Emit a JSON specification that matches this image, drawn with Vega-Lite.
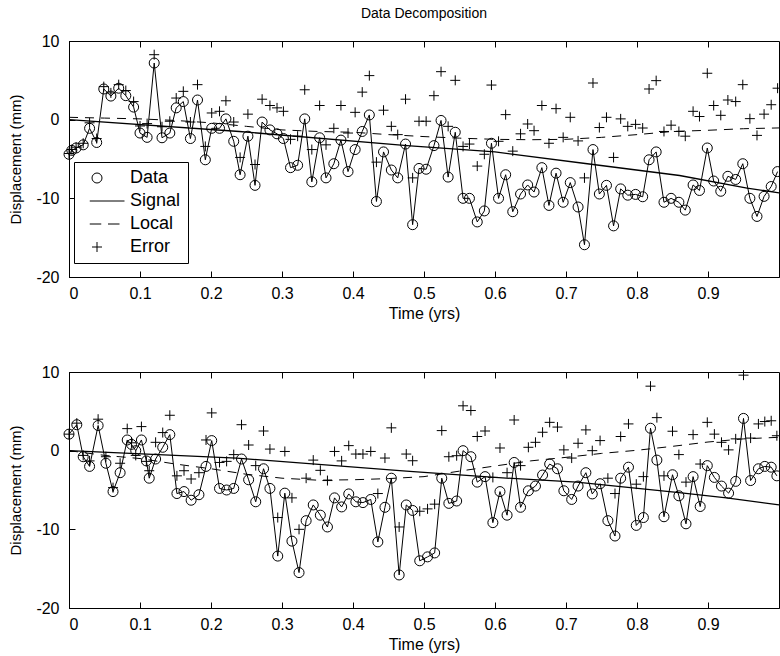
{
  "$schema": "https://vega.github.io/schema/vega-lite/v6.json",
  "background": "white",
  "padding": {"left": 8, "top": 6, "right": 0, "bottom": 0},
  "config": {
    "font": "Liberation Sans",
    "view": {"stroke": "black", "strokeWidth": 1},
    "axis": {"grid": false, "domainColor": "black", "tickColor": "black", "labelColor": "black", "titleColor": "black", "labelFontSize": 16, "titleFontSize": 15, "titleFontWeight": "normal", "tickSize": -6, "labelFont": "Liberation Sans", "titleFont": "Liberation Sans"},
    "concat": {"spacing": 41}
  },
  "datasets": {
    "top": [
      {"s":"Signal","t":0,"v":0},{"s":"Signal","t":0.24,"v":-1.5},{"s":"Signal","t":0.476,"v":-3.3},{"s":"Signal","t":0.6,"v":-4.1},{"s":"Signal","t":0.73,"v":-5.6},{"s":"Signal","t":0.86,"v":-7.1},{"s":"Signal","t":0.955,"v":-8.7},{"s":"Signal","t":1.0,"v":-9.3},
      {"s":"Local","t":0,"v":0.3},{"s":"Local","t":0.05,"v":0.2},{"s":"Local","t":0.1,"v":0.1},{"s":"Local","t":0.15,"v":-0.1},{"s":"Local","t":0.2,"v":-0.4},{"s":"Local","t":0.25,"v":-0.85},{"s":"Local","t":0.3,"v":-1.3},{"s":"Local","t":0.35,"v":-1.5},{"s":"Local","t":0.4,"v":-1.6},{"s":"Local","t":0.45,"v":-1.9},{"s":"Local","t":0.5,"v":-2.15},{"s":"Local","t":0.55,"v":-2.35},{"s":"Local","t":0.6,"v":-2.5},{"s":"Local","t":0.65,"v":-2.55},{"s":"Local","t":0.7,"v":-2.5},{"s":"Local","t":0.75,"v":-2.25},{"s":"Local","t":0.8,"v":-1.9},{"s":"Local","t":0.85,"v":-1.5},{"s":"Local","t":0.9,"v":-1.35},{"s":"Local","t":0.95,"v":-1.15},{"s":"Local","t":1.0,"v":-1.05},
      {"s":"Data","t":0.000,"v":-4.4},{"s":"Data","t":0.004,"v":-3.9},{"s":"Data","t":0.010,"v":-3.6},{"s":"Data","t":0.020,"v":-3.2},{"s":"Data","t":0.029,"v":-1.1},{"s":"Data","t":0.039,"v":-2.9},{"s":"Data","t":0.049,"v":3.9},{"s":"Data","t":0.059,"v":3.0},{"s":"Data","t":0.070,"v":4.0},{"s":"Data","t":0.080,"v":3.05},
      {"s":"Data","t":0.091,"v":1.6},{"s":"Data","t":0.100,"v":-1.7},{"s":"Data","t":0.110,"v":-2.25},{"s":"Data","t":0.120,"v":7.2},{"s":"Data","t":0.131,"v":-2.3},{"s":"Data","t":0.142,"v":-1.7},{"s":"Data","t":0.151,"v":1.5},{"s":"Data","t":0.161,"v":2.3},{"s":"Data","t":0.171,"v":-2.4},{"s":"Data","t":0.181,"v":2.5},
      {"s":"Data","t":0.192,"v":-5.1},{"s":"Data","t":0.201,"v":-1.1},{"s":"Data","t":0.212,"v":-1.1},{"s":"Data","t":0.221,"v":0.1},{"s":"Data","t":0.232,"v":-2.75},{"s":"Data","t":0.241,"v":-7.0},{"s":"Data","t":0.252,"v":-2.1},{"s":"Data","t":0.262,"v":-8.35},{"s":"Data","t":0.272,"v":-0.3},{"s":"Data","t":0.283,"v":-1.3},
      {"s":"Data","t":0.293,"v":-1.8},{"s":"Data","t":0.302,"v":-2.4},{"s":"Data","t":0.312,"v":-6.1},{"s":"Data","t":0.322,"v":-5.8},{"s":"Data","t":0.332,"v":0.1},{"s":"Data","t":0.342,"v":-7.9},{"s":"Data","t":0.353,"v":-2.3},{"s":"Data","t":0.362,"v":-7.4},{"s":"Data","t":0.373,"v":-5.6},{"s":"Data","t":0.383,"v":-2.6},
      {"s":"Data","t":0.393,"v":-6.6},{"s":"Data","t":0.403,"v":-3.8},{"s":"Data","t":0.413,"v":-1.5},{"s":"Data","t":0.423,"v":0.6},{"s":"Data","t":0.433,"v":-10.4},{"s":"Data","t":0.443,"v":-4.1},{"s":"Data","t":0.454,"v":-6.4},{"s":"Data","t":0.463,"v":-7.4},{"s":"Data","t":0.474,"v":-3.1},{"s":"Data","t":0.484,"v":-13.35},
      {"s":"Data","t":0.493,"v":-6.2},{"s":"Data","t":0.503,"v":-6.3},{"s":"Data","t":0.514,"v":-3.3},{"s":"Data","t":0.524,"v":-0.1},{"s":"Data","t":0.534,"v":-7.3},{"s":"Data","t":0.544,"v":-1.6},{"s":"Data","t":0.555,"v":-10.0},{"s":"Data","t":0.564,"v":-10.0},{"s":"Data","t":0.575,"v":-13.0},{"s":"Data","t":0.585,"v":-11.6},
      {"s":"Data","t":0.595,"v":-3.0},{"s":"Data","t":0.605,"v":-10.0},{"s":"Data","t":0.615,"v":-7.0},{"s":"Data","t":0.625,"v":-11.7},{"s":"Data","t":0.636,"v":-9.45},{"s":"Data","t":0.646,"v":-8.3},{"s":"Data","t":0.655,"v":-9.2},{"s":"Data","t":0.666,"v":-6.1},{"s":"Data","t":0.676,"v":-10.9},{"s":"Data","t":0.686,"v":-6.8},
      {"s":"Data","t":0.696,"v":-10.5},{"s":"Data","t":0.706,"v":-8.0},{"s":"Data","t":0.717,"v":-11.1},{"s":"Data","t":0.726,"v":-15.9},{"s":"Data","t":0.738,"v":-3.8},{"s":"Data","t":0.747,"v":-9.45},{"s":"Data","t":0.757,"v":-8.35},{"s":"Data","t":0.767,"v":-13.5},{"s":"Data","t":0.777,"v":-8.8},{"s":"Data","t":0.787,"v":-9.6},
      {"s":"Data","t":0.798,"v":-9.5},{"s":"Data","t":0.808,"v":-9.8},{"s":"Data","t":0.817,"v":-5.1},{"s":"Data","t":0.827,"v":-4.1},{"s":"Data","t":0.838,"v":-10.5},{"s":"Data","t":0.848,"v":-10.0},{"s":"Data","t":0.859,"v":-10.5},{"s":"Data","t":0.868,"v":-11.5},{"s":"Data","t":0.879,"v":-8.3},{"s":"Data","t":0.888,"v":-9.0},
      {"s":"Data","t":0.899,"v":-3.6},{"s":"Data","t":0.908,"v":-7.8},{"s":"Data","t":0.918,"v":-9.1},{"s":"Data","t":0.928,"v":-7.2},{"s":"Data","t":0.939,"v":-7.6},{"s":"Data","t":0.949,"v":-5.6},{"s":"Data","t":0.959,"v":-10.0},{"s":"Data","t":0.969,"v":-12.3},{"s":"Data","t":0.979,"v":-9.75},{"s":"Data","t":0.989,"v":-8.5},
      {"s":"Data","t":0.998,"v":-6.6},
      {"s":"Error","t":0.000,"v":-4.3},{"s":"Error","t":0.004,"v":-3.8},{"s":"Error","t":0.010,"v":-3.5},{"s":"Error","t":0.020,"v":-3.0},{"s":"Error","t":0.029,"v":-0.4},{"s":"Error","t":0.039,"v":-2.4},{"s":"Error","t":0.049,"v":4.2},{"s":"Error","t":0.059,"v":3.4},{"s":"Error","t":0.070,"v":4.45},{"s":"Error","t":0.080,"v":3.7},
      {"s":"Error","t":0.091,"v":2.3},{"s":"Error","t":0.100,"v":-0.8},{"s":"Error","t":0.110,"v":-0.5},{"s":"Error","t":0.120,"v":8.26},{"s":"Error","t":0.131,"v":-0.9},{"s":"Error","t":0.142,"v":-0.2},{"s":"Error","t":0.151,"v":2.75},{"s":"Error","t":0.161,"v":3.6},{"s":"Error","t":0.171,"v":-0.3},{"s":"Error","t":0.181,"v":4.45},
      {"s":"Error","t":0.192,"v":-3.4},{"s":"Error","t":0.201,"v":0.85},{"s":"Error","t":0.212,"v":1.06},{"s":"Error","t":0.221,"v":2.4},{"s":"Error","t":0.232,"v":-0.3},{"s":"Error","t":0.241,"v":-4.8},{"s":"Error","t":0.252,"v":0.7},{"s":"Error","t":0.262,"v":-5.7},{"s":"Error","t":0.272,"v":2.6},{"s":"Error","t":0.283,"v":1.8},
      {"s":"Error","t":0.293,"v":1.5},{"s":"Error","t":0.302,"v":1.06},{"s":"Error","t":0.312,"v":-2.5},{"s":"Error","t":0.322,"v":-2.1},{"s":"Error","t":0.332,"v":3.8},{"s":"Error","t":0.342,"v":-3.8},{"s":"Error","t":0.353,"v":1.8},{"s":"Error","t":0.362,"v":-3.2},{"s":"Error","t":0.373,"v":-1.1},{"s":"Error","t":0.383,"v":1.8},
      {"s":"Error","t":0.393,"v":-1.7},{"s":"Error","t":0.403,"v":0.93},{"s":"Error","t":0.413,"v":3.5},{"s":"Error","t":0.423,"v":5.6},{"s":"Error","t":0.433,"v":-5.4},{"s":"Error","t":0.443,"v":1.2},{"s":"Error","t":0.454,"v":-0.85},{"s":"Error","t":0.463,"v":-1.9},{"s":"Error","t":0.474,"v":2.6},{"s":"Error","t":0.484,"v":-7.4},
      {"s":"Error","t":0.493,"v":-0.2},{"s":"Error","t":0.503,"v":-0.2},{"s":"Error","t":0.514,"v":3.05},{"s":"Error","t":0.524,"v":6.1},{"s":"Error","t":0.534,"v":-0.85},{"s":"Error","t":0.544,"v":5.0},{"s":"Error","t":0.555,"v":-3.4},{"s":"Error","t":0.564,"v":-3.1},{"s":"Error","t":0.575,"v":-5.9},{"s":"Error","t":0.585,"v":-4.4},
      {"s":"Error","t":0.595,"v":4.4},{"s":"Error","t":0.605,"v":-2.75},{"s":"Error","t":0.615,"v":0.64},{"s":"Error","t":0.625,"v":-4.0},{"s":"Error","t":0.636,"v":-1.8},{"s":"Error","t":0.646,"v":-0.55},{"s":"Error","t":0.655,"v":-1.4},{"s":"Error","t":0.666,"v":1.8},{"s":"Error","t":0.676,"v":-3.0},{"s":"Error","t":0.686,"v":1.4},
      {"s":"Error","t":0.696,"v":-2.25},{"s":"Error","t":0.706,"v":0.3},{"s":"Error","t":0.717,"v":-2.7},{"s":"Error","t":0.726,"v":-7.4},{"s":"Error","t":0.738,"v":4.66},{"s":"Error","t":0.747,"v":-1.0},{"s":"Error","t":0.757,"v":0.3},{"s":"Error","t":0.767,"v":-4.8},{"s":"Error","t":0.777,"v":0.1},{"s":"Error","t":0.787,"v":-0.85},
      {"s":"Error","t":0.798,"v":-0.6},{"s":"Error","t":0.808,"v":-1.06},{"s":"Error","t":0.817,"v":3.9},{"s":"Error","t":0.827,"v":4.96},{"s":"Error","t":0.838,"v":-1.5},{"s":"Error","t":0.848,"v":-0.7},{"s":"Error","t":0.859,"v":-1.5},{"s":"Error","t":0.868,"v":-2.1},{"s":"Error","t":0.879,"v":1.06},{"s":"Error","t":0.888,"v":0.4},
      {"s":"Error","t":0.899,"v":5.9},{"s":"Error","t":0.908,"v":1.8},{"s":"Error","t":0.918,"v":0.55},{"s":"Error","t":0.928,"v":2.5},{"s":"Error","t":0.939,"v":2.3},{"s":"Error","t":0.949,"v":4.45},{"s":"Error","t":0.959,"v":0.13},{"s":"Error","t":0.969,"v":-2.0},{"s":"Error","t":0.979,"v":0.7},{"s":"Error","t":0.989,"v":1.9},
      {"s":"Error","t":0.998,"v":4.0}
    ],
    "bottom": [
      {"s":"Signal","t":0,"v":0},{"s":"Signal","t":0.236,"v":-0.94},{"s":"Signal","t":0.475,"v":-2.6},{"s":"Signal","t":0.6,"v":-3.4},{"s":"Signal","t":0.715,"v":-4.0},{"s":"Signal","t":0.856,"v":-5.3},{"s":"Signal","t":0.926,"v":-6.0},{"s":"Signal","t":1.0,"v":-6.9},
      {"s":"Local","t":0,"v":0},{"s":"Local","t":0.05,"v":-0.6},{"s":"Local","t":0.1,"v":-1.0},{"s":"Local","t":0.15,"v":-1.7},{"s":"Local","t":0.2,"v":-2.3},{"s":"Local","t":0.25,"v":-3.0},{"s":"Local","t":0.3,"v":-3.5},{"s":"Local","t":0.35,"v":-3.75},{"s":"Local","t":0.4,"v":-3.7},{"s":"Local","t":0.45,"v":-3.55},{"s":"Local","t":0.5,"v":-3.3},{"s":"Local","t":0.55,"v":-2.6},{"s":"Local","t":0.6,"v":-1.95},{"s":"Local","t":0.65,"v":-1.3},{"s":"Local","t":0.7,"v":-0.85},{"s":"Local","t":0.75,"v":-0.35},{"s":"Local","t":0.8,"v":0.05},{"s":"Local","t":0.85,"v":0.55},{"s":"Local","t":0.9,"v":1.1},{"s":"Local","t":0.95,"v":1.5},{"s":"Local","t":1.0,"v":1.7},
      {"s":"Data","t":0.000,"v":2.1},{"s":"Data","t":0.011,"v":3.3},{"s":"Data","t":0.020,"v":-0.77},{"s":"Data","t":0.029,"v":-2.0},{"s":"Data","t":0.041,"v":3.2},{"s":"Data","t":0.052,"v":-1.6},{"s":"Data","t":0.062,"v":-5.2},{"s":"Data","t":0.072,"v":-2.8},{"s":"Data","t":0.082,"v":1.36},{"s":"Data","t":0.088,"v":0.8},
      {"s":"Data","t":0.094,"v":0.0},{"s":"Data","t":0.102,"v":1.36},{"s":"Data","t":0.109,"v":-1.3},{"s":"Data","t":0.113,"v":-3.5},{"s":"Data","t":0.122,"v":-1.06},{"s":"Data","t":0.132,"v":0.43},{"s":"Data","t":0.142,"v":2.04},{"s":"Data","t":0.152,"v":-5.45},{"s":"Data","t":0.162,"v":-5.2},{"s":"Data","t":0.172,"v":-6.3},
      {"s":"Data","t":0.183,"v":-5.6},{"s":"Data","t":0.193,"v":-2.0},{"s":"Data","t":0.201,"v":1.28},{"s":"Data","t":0.212,"v":-4.8},{"s":"Data","t":0.222,"v":-5.0},{"s":"Data","t":0.232,"v":-4.8},{"s":"Data","t":0.243,"v":-1.06},{"s":"Data","t":0.253,"v":-3.7},{"s":"Data","t":0.263,"v":-6.5},{"s":"Data","t":0.274,"v":-2.3},
      {"s":"Data","t":0.283,"v":-4.8},{"s":"Data","t":0.294,"v":-13.4},{"s":"Data","t":0.304,"v":-5.4},{"s":"Data","t":0.314,"v":-11.5},{"s":"Data","t":0.324,"v":-15.5},{"s":"Data","t":0.334,"v":-8.9},{"s":"Data","t":0.344,"v":-6.9},{"s":"Data","t":0.354,"v":-8.2},{"s":"Data","t":0.364,"v":-9.7},{"s":"Data","t":0.374,"v":-6.0},
      {"s":"Data","t":0.384,"v":-7.15},{"s":"Data","t":0.394,"v":-5.5},{"s":"Data","t":0.404,"v":-6.5},{"s":"Data","t":0.414,"v":-6.6},{"s":"Data","t":0.425,"v":-6.2},{"s":"Data","t":0.435,"v":-11.6},{"s":"Data","t":0.445,"v":-7.2},{"s":"Data","t":0.454,"v":-3.5},{"s":"Data","t":0.465,"v":-15.8},{"s":"Data","t":0.475,"v":-6.9},
      {"s":"Data","t":0.484,"v":-7.6},{"s":"Data","t":0.494,"v":-14.0},{"s":"Data","t":0.505,"v":-13.5},{"s":"Data","t":0.515,"v":-13.0},{"s":"Data","t":0.525,"v":-3.5},{"s":"Data","t":0.535,"v":-6.7},{"s":"Data","t":0.546,"v":-6.4},{"s":"Data","t":0.555,"v":0.0},{"s":"Data","t":0.566,"v":-0.77},{"s":"Data","t":0.575,"v":-4.0},
      {"s":"Data","t":0.586,"v":-3.3},{"s":"Data","t":0.597,"v":-9.15},{"s":"Data","t":0.607,"v":-5.2},{"s":"Data","t":0.617,"v":-8.2},{"s":"Data","t":0.627,"v":-1.5},{"s":"Data","t":0.636,"v":-7.2},{"s":"Data","t":0.647,"v":-5.1},{"s":"Data","t":0.657,"v":-4.5},{"s":"Data","t":0.667,"v":-3.1},{"s":"Data","t":0.677,"v":-1.7},
      {"s":"Data","t":0.688,"v":-2.3},{"s":"Data","t":0.697,"v":-5.1},{"s":"Data","t":0.708,"v":-6.2},{"s":"Data","t":0.717,"v":-4.5},{"s":"Data","t":0.728,"v":-2.8},{"s":"Data","t":0.737,"v":-5.5},{"s":"Data","t":0.748,"v":-4.2},{"s":"Data","t":0.759,"v":-8.9},{"s":"Data","t":0.769,"v":-10.85},{"s":"Data","t":0.777,"v":-3.5},
      {"s":"Data","t":0.788,"v":-2.1},{"s":"Data","t":0.799,"v":-9.5},{"s":"Data","t":0.809,"v":-8.5},{"s":"Data","t":0.819,"v":2.85},{"s":"Data","t":0.828,"v":-1.2},{"s":"Data","t":0.838,"v":-8.4},{"s":"Data","t":0.850,"v":-3.06},{"s":"Data","t":0.859,"v":-5.74},{"s":"Data","t":0.869,"v":-9.3},{"s":"Data","t":0.879,"v":-3.3},
      {"s":"Data","t":0.889,"v":-7.1},{"s":"Data","t":0.899,"v":-1.9},{"s":"Data","t":0.909,"v":-3.4},{"s":"Data","t":0.919,"v":-4.5},{"s":"Data","t":0.929,"v":-5.4},{"s":"Data","t":0.939,"v":-3.9},{"s":"Data","t":0.950,"v":4.1},{"s":"Data","t":0.960,"v":-3.8},{"s":"Data","t":0.971,"v":-2.3},{"s":"Data","t":0.980,"v":-2.0},
      {"s":"Data","t":0.989,"v":-2.1},{"s":"Data","t":0.997,"v":-3.2},
      {"s":"Error","t":0.000,"v":2.1},{"s":"Error","t":0.011,"v":3.5},{"s":"Error","t":0.020,"v":-0.6},{"s":"Error","t":0.029,"v":-1.3},{"s":"Error","t":0.041,"v":4.0},{"s":"Error","t":0.052,"v":-0.77},{"s":"Error","t":0.062,"v":-4.7},{"s":"Error","t":0.072,"v":-1.6},{"s":"Error","t":0.082,"v":2.8},{"s":"Error","t":0.088,"v":1.0},
      {"s":"Error","t":0.094,"v":-0.6},{"s":"Error","t":0.102,"v":3.06},{"s":"Error","t":0.109,"v":-1.36},{"s":"Error","t":0.113,"v":-2.55},{"s":"Error","t":0.122,"v":1.06},{"s":"Error","t":0.132,"v":2.3},{"s":"Error","t":0.142,"v":4.5},{"s":"Error","t":0.152,"v":-3.2},{"s":"Error","t":0.162,"v":-2.55},{"s":"Error","t":0.172,"v":-3.6},
      {"s":"Error","t":0.183,"v":-2.8},{"s":"Error","t":0.193,"v":1.36},{"s":"Error","t":0.201,"v":4.8},{"s":"Error","t":0.212,"v":-1.5},{"s":"Error","t":0.222,"v":-1.36},{"s":"Error","t":0.232,"v":-0.5},{"s":"Error","t":0.243,"v":3.3},{"s":"Error","t":0.253,"v":0.72},{"s":"Error","t":0.263,"v":-1.9},{"s":"Error","t":0.274,"v":2.5},
      {"s":"Error","t":0.283,"v":0.2},{"s":"Error","t":0.294,"v":-8.5},{"s":"Error","t":0.304,"v":-0.1},{"s":"Error","t":0.314,"v":-6.0},{"s":"Error","t":0.324,"v":-10.0},{"s":"Error","t":0.334,"v":-3.5},{"s":"Error","t":0.344,"v":-1.2},{"s":"Error","t":0.354,"v":-2.5},{"s":"Error","t":0.364,"v":-3.8},{"s":"Error","t":0.374,"v":-0.1},
      {"s":"Error","t":0.384,"v":-1.3},{"s":"Error","t":0.394,"v":0.64},{"s":"Error","t":0.404,"v":-0.43},{"s":"Error","t":0.414,"v":-0.43},{"s":"Error","t":0.425,"v":-0.1},{"s":"Error","t":0.435,"v":-5.45},{"s":"Error","t":0.445,"v":-0.94},{"s":"Error","t":0.454,"v":2.9},{"s":"Error","t":0.465,"v":-9.7},{"s":"Error","t":0.475,"v":-0.43},
      {"s":"Error","t":0.484,"v":-1.28},{"s":"Error","t":0.494,"v":-7.7},{"s":"Error","t":0.505,"v":-7.4},{"s":"Error","t":0.515,"v":-6.8},{"s":"Error","t":0.525,"v":2.55},{"s":"Error","t":0.535,"v":-0.77},{"s":"Error","t":0.546,"v":-0.64},{"s":"Error","t":0.555,"v":5.7},{"s":"Error","t":0.566,"v":5.1},{"s":"Error","t":0.575,"v":1.8},
      {"s":"Error","t":0.586,"v":2.5},{"s":"Error","t":0.597,"v":-3.4},{"s":"Error","t":0.607,"v":0.34},{"s":"Error","t":0.617,"v":-2.8},{"s":"Error","t":0.627,"v":3.9},{"s":"Error","t":0.636,"v":-1.9},{"s":"Error","t":0.647,"v":0.43},{"s":"Error","t":0.657,"v":1.06},{"s":"Error","t":0.667,"v":2.34},{"s":"Error","t":0.677,"v":3.6},
      {"s":"Error","t":0.688,"v":3.0},{"s":"Error","t":0.697,"v":0.1},{"s":"Error","t":0.708,"v":-0.94},{"s":"Error","t":0.717,"v":0.94},{"s":"Error","t":0.728,"v":2.64},{"s":"Error","t":0.737,"v":0.0},{"s":"Error","t":0.748,"v":1.28},{"s":"Error","t":0.759,"v":-3.5},{"s":"Error","t":0.769,"v":-5.45},{"s":"Error","t":0.777,"v":1.8},
      {"s":"Error","t":0.788,"v":3.4},{"s":"Error","t":0.799,"v":-4.26},{"s":"Error","t":0.809,"v":-3.3},{"s":"Error","t":0.819,"v":8.2},{"s":"Error","t":0.828,"v":4.2},{"s":"Error","t":0.838,"v":-3.2},{"s":"Error","t":0.850,"v":2.47},{"s":"Error","t":0.859,"v":-0.5},{"s":"Error","t":0.869,"v":-4.0},{"s":"Error","t":0.879,"v":2.04},
      {"s":"Error","t":0.889,"v":-1.7},{"s":"Error","t":0.899,"v":3.6},{"s":"Error","t":0.909,"v":2.1},{"s":"Error","t":0.919,"v":1.06},{"s":"Error","t":0.929,"v":0.1},{"s":"Error","t":0.939,"v":1.5},{"s":"Error","t":0.950,"v":9.6},{"s":"Error","t":0.960,"v":1.6},{"s":"Error","t":0.971,"v":3.4},{"s":"Error","t":0.980,"v":3.7},
      {"s":"Error","t":0.989,"v":3.8},{"s":"Error","t":0.997,"v":1.9}
    ]
  },
  "vconcat": [
    {
      "width": 710, "height": 236,
      "data": {"name": "top"},
      "title": {"text": "Data Decomposition", "fontSize": 14, "fontWeight": "normal", "frame": "group", "anchor": "middle", "offset": 12, "color": "black", "font": "Liberation Sans"},
      "layer": [
        {
          "transform": [{"filter": "datum.s === 'Signal'"}],
          "mark": {"type": "line", "color": "black", "strokeWidth": 1.4},
          "encoding": {
            "x": {"field": "t", "type": "quantitative", "scale": {"domain": [0, 1], "nice": false, "zero": false},
                  "axis": {"orient": "bottom", "title": "Time (yrs)", "titleFontSize": 16, "values": [0,0.1,0.2,0.3,0.4,0.5,0.6,0.7,0.8,0.9], "format": "~g", "labelPadding": 14, "titlePadding": 4}},
            "y": {"field": "v", "type": "quantitative", "scale": {"domain": [-20, 10], "nice": false},
                  "axis": {"title": "Displacement (mm)", "values": [-20,-10,0,10], "labelExpr": "'' + datum.value", "labelPadding": 16, "titlePadding": 12}}
          }
        },
        {
          "transform": [{"filter": "datum.s === 'Local'"}],
          "mark": {"type": "line", "color": "black", "strokeWidth": 1, "strokeDash": [9, 7]},
          "encoding": {
            "x": {"field": "t", "type": "quantitative", "axis": {"orient": "top", "labels": false, "title": null, "domain": false, "values": [0,0.1,0.2,0.3,0.4,0.5,0.6,0.7,0.8,0.9]}},
            "y": {"field": "v", "type": "quantitative"}
          }
        },
        {
          "transform": [{"filter": "datum.s === 'Data'"}],
          "mark": {"type": "line", "color": "black", "strokeWidth": 1},
          "encoding": {
            "x": {"field": "t", "type": "quantitative", "axis": null},
            "y": {"field": "v", "type": "quantitative"}
          }
        },
        {
          "transform": [{"filter": "datum.s === 'Data' || datum.s === 'Error'"}],
          "mark": {"type": "point", "filled": false, "color": "black", "strokeWidth": 1, "size": 100, "opacity": 1},
          "encoding": {
            "x": {"field": "t", "type": "quantitative", "axis": null},
            "y": {"field": "v", "type": "quantitative"},
            "shape": {"field": "s", "type": "nominal",
              "scale": {"domain": ["Data", "Signal", "Local", "Error"], "range": ["circle", "M-1.45,0L5.5,0", "M-1.45,0L0.85,0M2.2,0L4.5,0", "M-1,0L1,0M0,-1L0,1"]},
              "legend": {"orient": "none", "legendX": 5, "legendY": 121, "title": null, "padding": 7, "strokeColor": "black", "fillColor": "white", "labelFontSize": 18, "labelColor": "black", "labelFont": "Liberation Sans", "symbolStrokeColor": "black", "symbolFillColor": "transparent", "symbolStrokeWidth": 1, "symbolSize": 100, "symbolOffset": 7, "labelOffset": 24, "rowPadding": 5, "cornerRadius": 0}}
          }
        }
      ],
      "resolve": {"axis": {"x": "independent"}}
    },
    {
      "width": 710, "height": 236,
      "data": {"name": "bottom"},
      "layer": [
        {
          "transform": [{"filter": "datum.s === 'Signal'"}],
          "mark": {"type": "line", "color": "black", "strokeWidth": 1.2},
          "encoding": {
            "x": {"field": "t", "type": "quantitative", "scale": {"domain": [0, 1], "nice": false, "zero": false},
                  "axis": {"orient": "bottom", "title": "Time (yrs)", "titleFontSize": 16, "values": [0,0.1,0.2,0.3,0.4,0.5,0.6,0.7,0.8,0.9], "format": "~g", "labelPadding": 14, "titlePadding": 4}},
            "y": {"field": "v", "type": "quantitative", "scale": {"domain": [-20, 10], "nice": false},
                  "axis": {"title": "Displacement (mm)", "values": [-20,-10,0,10], "labelExpr": "'' + datum.value", "labelPadding": 16, "titlePadding": 12}}
          }
        },
        {
          "transform": [{"filter": "datum.s === 'Local'"}],
          "mark": {"type": "line", "color": "black", "strokeWidth": 1, "strokeDash": [9, 7]},
          "encoding": {
            "x": {"field": "t", "type": "quantitative", "axis": {"orient": "top", "labels": false, "title": null, "domain": false, "values": [0,0.1,0.2,0.3,0.4,0.5,0.6,0.7,0.8,0.9]}},
            "y": {"field": "v", "type": "quantitative"}
          }
        },
        {
          "transform": [{"filter": "datum.s === 'Data'"}],
          "mark": {"type": "line", "color": "black", "strokeWidth": 1},
          "encoding": {
            "x": {"field": "t", "type": "quantitative", "axis": null},
            "y": {"field": "v", "type": "quantitative"}
          }
        },
        {
          "transform": [{"filter": "datum.s === 'Data' || datum.s === 'Error'"}],
          "mark": {"type": "point", "filled": false, "color": "black", "strokeWidth": 1, "size": 100, "opacity": 1},
          "encoding": {
            "x": {"field": "t", "type": "quantitative", "axis": null},
            "y": {"field": "v", "type": "quantitative"},
            "shape": {"field": "s", "type": "nominal",
              "scale": {"domain": ["Data", "Signal", "Local", "Error"], "range": ["circle", "M-1.45,0L5.5,0", "M-1.45,0L0.85,0M2.2,0L4.5,0", "M-1,0L1,0M0,-1L0,1"]},
              "legend": null}
          }
        }
      ],
      "resolve": {"axis": {"x": "independent"}}
    }
  ],
  "resolve": {"scale": {"x": "independent", "y": "independent", "shape": "independent"}, "legend": {"shape": "independent"}}
}
